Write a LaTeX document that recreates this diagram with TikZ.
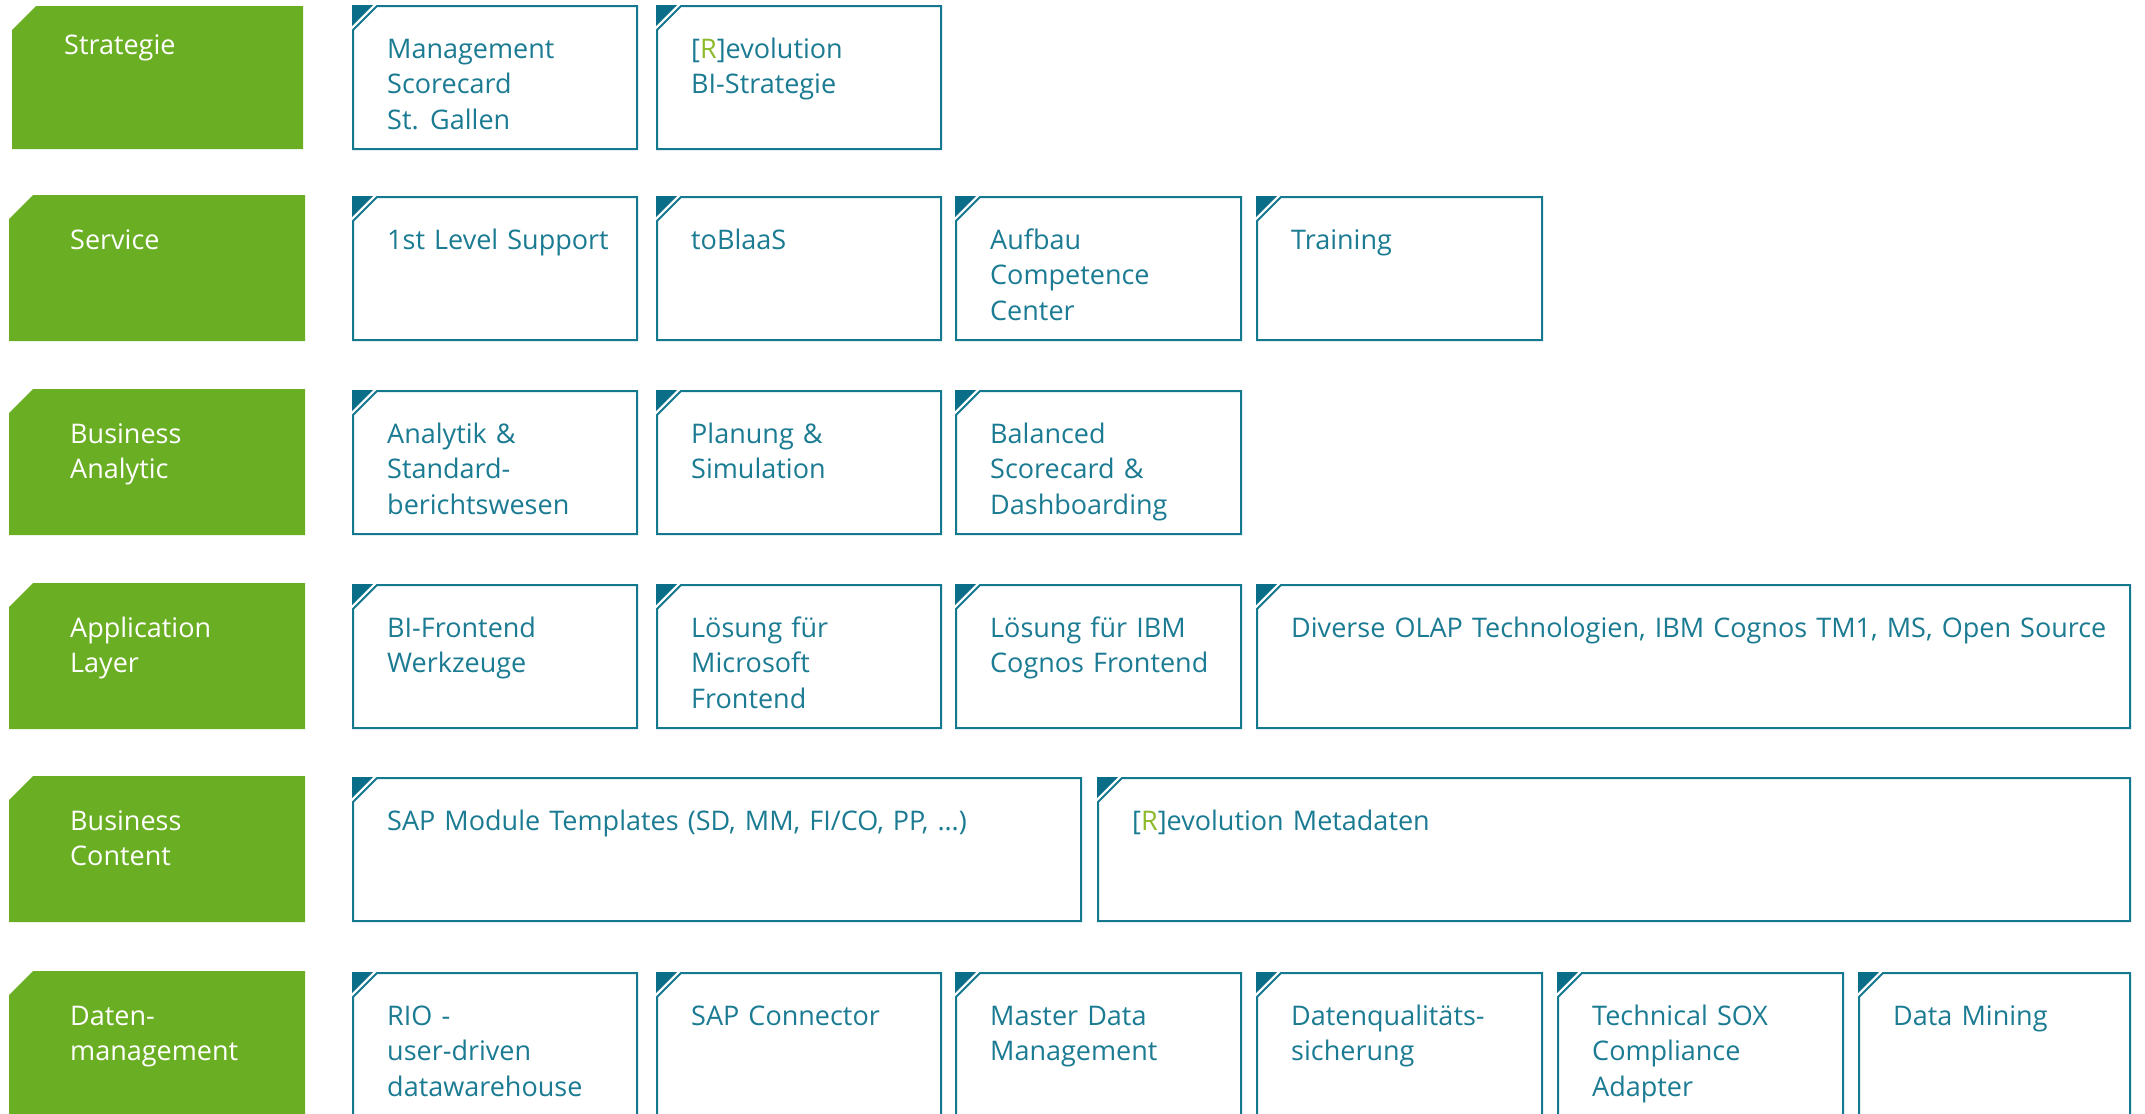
\documentclass[tikz,border=0pt]{standalone}
\usepackage{fontspec}
\setmainfont[WordSpace=1.3]{Open Sans}
\definecolor{lblgreen}{HTML}{6AAF23}
\definecolor{tealline}{HTML}{14788F}
\definecolor{tealdark}{HTML}{0B6E88}
\definecolor{tealtext}{HTML}{1B7B92}
\definecolor{rgreen}{HTML}{8DBA2A}
\tikzset{
  boxline/.style={draw=tealline, line width=2pt, fill=white},
  cornertri/.style={fill=tealdark},
  greenlbl/.style={fill=lblgreen},
  boxtext/.style={anchor=base west, inner sep=0pt, text=tealtext, font=\fontsize{27}{35.5}\selectfont},
  lbltext/.style={anchor=base west, inner sep=0pt, text=white, font=\fontsize{27}{35.5}\selectfont},
}
\newcommand{\mlines}[1]{\begin{tabular}[t]{@{}l@{}}#1\end{tabular}}
% \tbox{name}{x1}{x2}{top}{text}
\newcommand{\tbox}[5]{%
  \draw[boxline] (#2,#4+24) -- (#2+24,#4) -- (#3,#4) -- (#3,#4+143) -- (#2,#4+143) -- cycle;
  \fill[cornertri] (#2-1,#4-1) -- (#2+20,#4-1) -- (#2-1,#4+20) -- cycle;
  \node[boxtext] (#1) at (#2+34,#4+52) {\mlines{#5}};
}
% \glabel{name}{x1}{x2}{top}{bottom}{textx}{baseline}{text}
\newcommand{\glabel}[8]{%
  \fill[greenlbl] (#2,#4+24) -- (#2+24,#4) -- (#3,#4) -- (#3,#5) -- (#2,#5) -- cycle;
  \node[lbltext] (#1) at (#6,#7) {\mlines{#8}};
}
\newcommand{\Rmark}{[\textcolor{rgreen}{R}]}
\begin{document}
\begin{tikzpicture}[x=1pt,y=-1pt]
\useasboundingbox (0,0) rectangle (2145,1114);
\clip (0,0) rectangle (2145,1114);
% labels
\glabel{l1}{12}{303}{6}{149}{64}{54}{Strategie}
\glabel{l2}{9}{305}{195}{341}{70}{249}{Service}
\glabel{l3}{9}{305}{389}{535}{70}{443}{Business\\Analytic}
\glabel{l4}{9}{305}{583}{729}{70}{637}{Application\\Layer}
\glabel{l5}{9}{305}{776}{922}{70}{830}{Business\\Content}
\glabel{l6}{9}{305}{971}{1130}{70}{1025}{Daten-\\management}
% row 1
\tbox{b11}{353}{637}{6}{Management\\Scorecard\\St. Gallen}
\tbox{b12}{657}{941}{6}{\Rmark evolution\\BI-Strategie}
% row 2
\tbox{b21}{353}{637}{197}{1st Level Support}
\tbox{b22}{657}{941}{197}{toBlaaS}
\tbox{b23}{956}{1241}{197}{Aufbau\\Competence\\Center}
\tbox{b24}{1257}{1542}{197}{Training}
% row 3
\tbox{b31}{353}{637}{391}{Analytik \&\\Standard-\\berichtswesen}
\tbox{b32}{657}{941}{391}{Planung \&\\Simulation}
\tbox{b33}{956}{1241}{391}{Balanced\\Scorecard \&\\Dashboarding}
% row 4
\tbox{b41}{353}{637}{585}{BI-Frontend\\Werkzeuge}
\tbox{b42}{657}{941}{585}{Lösung für\\Microsoft\\Frontend}
\tbox{b43}{956}{1241}{585}{Lösung für IBM\\Cognos Frontend}
\tbox{b44}{1257}{2130}{585}{Diverse OLAP Technologien, IBM Cognos TM1, MS, Open Source}
% row 5
\tbox{b51}{353}{1081}{778}{SAP Module Templates (SD, MM, FI/CO, PP, …)}
\tbox{b52}{1098}{2130}{778}{\Rmark evolution Metadaten}
% row 6
\tbox{b61}{353}{637}{973}{RIO -\\user-driven\\datawarehouse}
\tbox{b62}{657}{941}{973}{SAP Connector}
\tbox{b63}{956}{1241}{973}{Master Data\\Management}
\tbox{b64}{1257}{1542}{973}{Datenqualitäts-\\sicherung}
\tbox{b65}{1558}{1843}{973}{Technical SOX\\Compliance\\Adapter}
\tbox{b66}{1859}{2130}{973}{Data Mining}
\end{tikzpicture}
\end{document}
